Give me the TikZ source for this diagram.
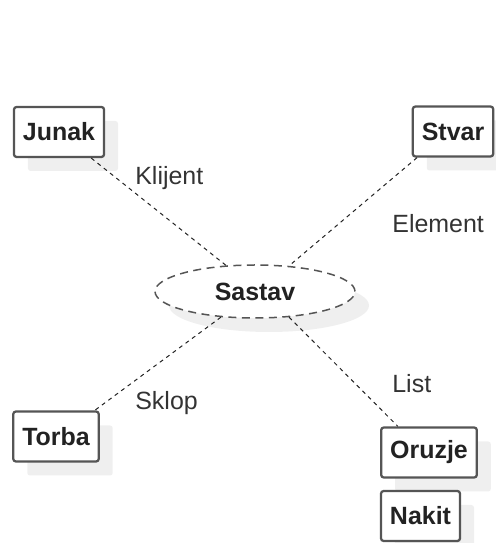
\documentclass[tikz,border=0pt]{standalone}
\usepackage{fontspec}
\setmainfont{Liberation Sans}
\usetikzlibrary{shapes.geometric,shadows}
\definecolor{borde}{HTML}{555555}
\definecolor{texto}{HTML}{222222}
\definecolor{etiq}{HTML}{333333}
\definecolor{sombra}{HTML}{EFEFEF}

\newcommand{\letra}{\fontsize{14.2pt}{17pt}\selectfont}

\tikzset{
  clase/.style={draw=borde, line width=0.045cm, rounded corners=1.5pt, fill=white,
    text=texto, font=\letra\bfseries, inner xsep=0.18cm, minimum height=1cm,
    drop shadow={shadow xshift=0.28cm, shadow yshift=-0.28cm, fill=sombra, opacity=1}},
  asoc/.style={ellipse, draw=borde, line width=0.03cm, dash pattern=on 0.16cm off 0.11cm,
    fill=white, text=texto, font=\letra\bfseries, inner sep=0pt, minimum width=4cm, minimum height=1.06cm,
    drop shadow={shadow xshift=0.28cm, shadow yshift=-0.28cm, fill=sombra, opacity=1}},
  enlace/.style={draw=texto, line width=0.02cm, dash pattern=on 0.08cm off 0.08cm},
  rol/.style={text=etiq, font=\letra, inner sep=0pt, anchor=base west}
}

\begin{document}
\begin{tikzpicture}
  \useasboundingbox (0,0) rectangle (9.9,10.86);

  % Clases
  \node[clase] (junak) at (1.18,8.22) {Junak};
  \node[clase] (stvar) at (9.06,8.23) {Stvar};
  \node[clase] (torba) at (1.12,2.13) {Torba};
  \node[clase] (oruzje) at (8.58,1.81) {Oruzje};
  \node[clase] (nakit) at (8.41,0.54) {Nakit};

  % Asociación central
  \node[asoc] (sastav) at (5.10,5.03) {Sastav};

  % Enlaces con sus roles
  \draw[enlace] (junak.-39) -- (sastav.138);
  \draw[enlace] (stvar.216) -- (sastav.37);
  \draw[enlace] (sastav.217) -- (torba.34);
  \draw[enlace] (sastav.-37) -- (oruzje.140);

  \node[rol] (klijent) at (2.70,7.16) {Klijent};
  \node[rol] (element) at (7.84,6.20) {Element};
  \node[rol] (sklop) at (2.70,2.66) {Sklop};
  \node[rol] (list) at (7.84,3.00) {List};
\end{tikzpicture}
\end{document}
